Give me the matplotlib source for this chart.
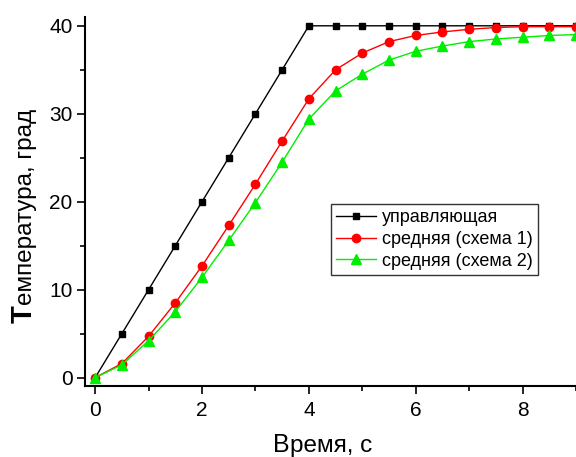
import matplotlib
matplotlib.use('Agg')
import matplotlib.pyplot as plt
from matplotlib.ticker import MultipleLocator

plt.rcParams['font.family'] = ['Liberation Sans', 'DejaVu Sans']

# время, с
t = [0, 0.5, 1, 1.5, 2, 2.5, 3, 3.5, 4, 4.5, 5, 5.5, 6, 6.5, 7, 7.5, 8, 8.5, 9]

# управляющая температура
T_ctrl = [0, 5, 10, 15, 20, 25, 30, 35, 40, 40, 40, 40, 40, 40, 40, 40, 40, 40, 40]
# средняя температура, схема 1
T_mean1 = [0, 1.6, 4.7, 8.5, 12.7, 17.3, 22.0, 26.9, 31.7, 35.0, 36.9, 38.2,
           38.9, 39.3, 39.6, 39.8, 39.9, 39.9, 39.9]
# средняя температура, схема 2
T_mean2 = [0, 1.45, 4.2, 7.5, 11.4, 15.6, 19.9, 24.5, 29.4, 32.6, 34.5, 36.1,
           37.1, 37.7, 38.2, 38.5, 38.7, 38.9, 39.0]

labels = ['управляющая', 'средняя (схема 1)', 'средняя (схема 2)']

fig = plt.figure(figsize=(5.76, 4.57), dpi=100)
ax = fig.add_axes([85 / 576, 71 / 457, 491 / 576, 369 / 457])

ax.plot(t, T_ctrl, color='black', lw=1, marker='s', ms=5, label=labels[0])
ax.plot(t, T_mean1, color='#ff0000', lw=1, marker='o', ms=6, label=labels[1])
ax.plot(t, T_mean2, color='#00ee00', lw=1, marker='^', ms=7, label=labels[2])

ax.set_xlim(-0.19, 9.0)
ax.set_ylim(-0.95, 41)

ax.spines['top'].set_visible(False)
ax.spines['right'].set_visible(False)
ax.spines['left'].set_linewidth(1.5)
ax.spines['bottom'].set_linewidth(1.5)

ax.xaxis.set_major_locator(MultipleLocator(2))
ax.xaxis.set_minor_locator(MultipleLocator(1))
ax.yaxis.set_major_locator(MultipleLocator(10))
ax.yaxis.set_minor_locator(MultipleLocator(5))
ax.tick_params(which='major', direction='out', length=6, width=1.2,
               labelsize=15, pad=3)
ax.tick_params(axis='x', which='major', pad=5)
ax.tick_params(which='minor', direction='out', length=3.5, width=1.2)

leg = ax.legend(loc='upper left', bbox_to_anchor=(0.501, 0.493),
                borderaxespad=0, fontsize=13, numpoints=1,
                fancybox=False, edgecolor='#333333', framealpha=1,
                handlelength=2.2, handletextpad=0.3, labelspacing=0.25,
                borderpad=0.3)
leg.get_frame().set_linewidth(1)

# подписи осей: первая буква крупнее остальных
ylab_big = fig.text(32 / 576, 1 - 323 / 457, 'Т', fontsize=21, weight='bold',
                    rotation=90, rotation_mode='anchor', ha='left',
                    va='baseline')
ax.annotate('емпература, град', xy=(32 / 576, 1.0),
            xycoords=(fig.transFigure, ylab_big), fontsize=17.5, rotation=90,
            rotation_mode='anchor', ha='left', va='baseline',
            annotation_clip=False)

xlab_big = fig.text(273 / 576, 1 - 452 / 457, 'В', fontsize=18,
                    ha='left', va='baseline')
ax.annotate('ремя, с', xy=(1.0, 1 - 452 / 457),
            xycoords=(xlab_big, fig.transFigure), fontsize=17.5,
            ha='left', va='baseline', annotation_clip=False)

fig.savefig('out.png', dpi=100)
